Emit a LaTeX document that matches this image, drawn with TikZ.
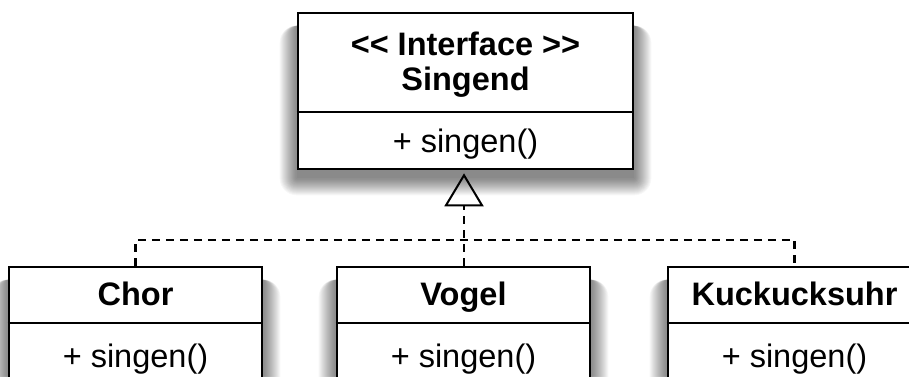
\documentclass[tikz,border=0pt]{standalone}
\usepackage{fontspec}
\newfontfamily\umlfont{Liberation Sans}
\usetikzlibrary{arrows.meta}
\pgfdeclarelayer{shade}
\pgfsetlayers{shade,main}
% soft drop shadow under a class box: stacked translucent rectangles
\newcommand\umlshadow[1]{%
  \foreach \k in {0,...,17}{%
    \fill[black,opacity=0.032,rounded corners=\k pt]
      ([xshift=-\k pt,yshift=-8pt-\k pt]#1.south west) rectangle
      ([xshift=\k pt,yshift=-14pt]#1.north east);
  }}
\begin{document}
\begin{tikzpicture}[x=1pt,y=-1pt,
  umlbox/.style={draw=black,line width=2.6pt,fill=white,rectangle,inner sep=0pt,
    minimum width=253pt,minimum height=113pt},
  divider/.style={line width=2.6pt},
  label/.style={anchor=base,inner sep=0pt,font=\umlfont\fontsize{32.5}{35}\selectfont},
  title/.style={label,font=\umlfont\bfseries\fontsize{32.5}{35}\selectfont},
  realize/.style={dash pattern=on 8pt off 6pt,line width=2.2pt}]
\useasboundingbox (0,0) rectangle (909,376);

% interface
\node[umlbox,minimum width=335pt,minimum height=156pt] (iface) at (465.5,91) {};
\draw[divider] (iface.west |- 0,112) -- (iface.east |- 0,112);
\node[title] (ifst) at (465.5,55) {<< Interface >>};
\node[title] (ifname) at (465.5,90) {Singend};
\node[label] (ifop) at (465.5,152) {+ singen()};

% implementing classes
\foreach \n/\x/\t in {chor/135.5/Chor, vogel/463.5/Vogel, kuck/794.5/Kuckucksuhr}{
  \node[umlbox] (\n) at (\x,323.5) {};
  \draw[divider] (\n.west |- 0,323) -- (\n.east |- 0,323);
  \node[title] (\n name) at (\x,305) {\t};
  \node[label] (\n op) at (\x,367) {+ singen()};
}

\begin{pgfonlayer}{shade}
  \fill[white] (0,0) rectangle (909,376);
  \umlshadow{iface}
  \umlshadow{chor}
  \umlshadow{vogel}
  \umlshadow{kuck}
\end{pgfonlayer}

% realization arrows
\coordinate (bus) at (464,240);
\draw[realize] (chor.north) |- (bus) -| (kuck.north);
\draw[realize,-{Triangle[open,length=33pt,width=39pt,line width=2pt,sep=3pt]}]
  (vogel.north -| bus) -- (bus |- iface.south);
\end{tikzpicture}
\end{document}
